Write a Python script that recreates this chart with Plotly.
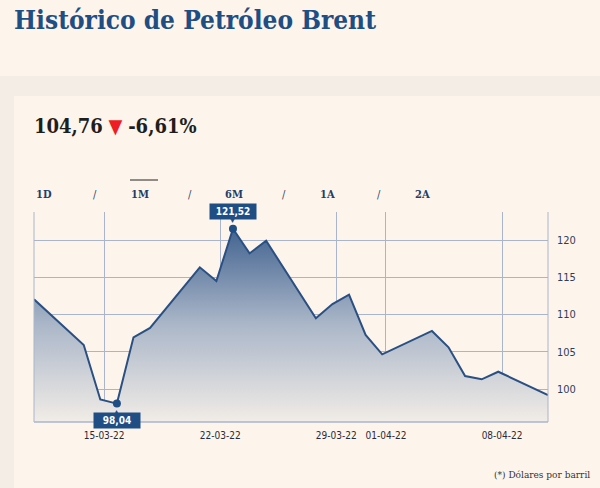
import plotly.graph_objects as go

# ---- data ----
dates = ["2022-03-10 18:30", "2022-03-13 18:30", "2022-03-14 18:30", "2022-03-15 18:30",
         "2022-03-16 18:30", "2022-03-17 18:30", "2022-03-20 18:30", "2022-03-21 18:30",
         "2022-03-22 18:30", "2022-03-23 18:30", "2022-03-24 18:30", "2022-03-27 18:30",
         "2022-03-28 18:30", "2022-03-29 18:30", "2022-03-30 18:30", "2022-03-31 18:30",
         "2022-04-03 18:30", "2022-04-04 18:30", "2022-04-05 18:30", "2022-04-06 18:30",
         "2022-04-07 18:30", "2022-04-10 18:30"]
prices = [112.04, 105.9, 98.6, 98.04, 106.94, 108.19, 116.33, 114.5, 121.52, 118.2, 119.9,
          109.49, 111.4, 112.66, 107.25, 104.65, 107.79, 105.6, 101.74, 101.3, 102.32, 99.19]
x_tickvals = ["2022-03-15", "2022-03-22", "2022-03-29", "2022-04-01", "2022-04-08"]
x_ticktext = ["15-03-22", "22-03-22", "29-03-22", "01-04-22", "08-04-22"]
y_tickvals = [100, 105, 110, 115, 120]
y_ticktext = ["100", "105", "110", "115", "120"]
max_label = "121,52"
min_label = "98,04"
current_value = "104,76"
current_change = "-6,61%"
ranges = ["1D", "1M", "6M", "1A", "2A"]

BG = "#fdf5ec"
BAND = "#f4ede5"
BLUE = "#1f4e85"
LINE = "#2a5083"
GRID = "#aab5ca"

imax = prices.index(max(prices))
imin = prices.index(min(prices))

fig = go.Figure()
fig.add_trace(go.Scatter(
    x=dates, y=prices, mode="lines",
    line=dict(color=LINE, width=2),
    fill="tozeroy",
    fillgradient=dict(type="vertical", start=95.6, stop=122,
                      colorscale=[[0, "rgba(241,236,231,1)"], [0.5, "rgba(170,182,200,1)"],
                                  [1, "rgba(62,96,142,1)"]]),
    hoverinfo="x+y", showlegend=False))
fig.add_trace(go.Scatter(
    x=[dates[imax], dates[imin]], y=[prices[imax], prices[imin]], mode="markers",
    marker=dict(color=BLUE, size=8), showlegend=False, hoverinfo="skip"))

annos = []
annos.append(dict(x=dates[imax], y=prices[imax], xref="x", yref="y", text="<b>%s</b>" % max_label,
                  showarrow=False, yshift=17, bgcolor=BLUE, font=dict(color="white", size=10, family="DejaVu Sans Condensed"),
                  borderpad=2, width=42))
annos.append(dict(x=dates[imax], y=prices[imax], xref="x", yref="y", text="▼",
                  showarrow=False, yshift=8, font=dict(color=BLUE, size=7)))
annos.append(dict(x=dates[imin], y=prices[imin], xref="x", yref="y", text="<b>%s</b>" % min_label,
                  showarrow=False, yshift=-17, bgcolor=BLUE, font=dict(color="white", size=10, family="DejaVu Sans Condensed"),
                  borderpad=2, width=42))
annos.append(dict(x=dates[imin], y=prices[imin], xref="x", yref="y", text="▲",
                  showarrow=False, yshift=-8, font=dict(color=BLUE, size=7)))

# page texts (paper coords: plot area x 34..548, y 212..422)
def px(x):
    return (x - 34) / 514.0

def py(y):
    return (422 - y) / 210.0

annos.append(dict(x=px(12), y=py(20), xref="paper", yref="paper", xanchor="left", yanchor="middle",
                  text="<b>Histórico de Petróleo Brent</b>", showarrow=False,
                  font=dict(family="DejaVu Serif Condensed", size=26, color=BLUE)))
annos.append(dict(x=px(32), y=py(126), xref="paper", yref="paper", xanchor="left", yanchor="middle",
                  text="<b>%s</b> <span style='color:#ee1c25'>▼</span> <b>%s</b>" % (current_value, current_change),
                  showarrow=False, font=dict(family="DejaVu Serif Condensed", size=20, color="#1e1e1e")))
rx = [34, 129, 223, 318, 413]
for i, r in enumerate(ranges):
    annos.append(dict(x=px(rx[i]), y=py(194), xref="paper", yref="paper", xanchor="left", yanchor="middle",
                      text="<b>%s</b>" % r, showarrow=False,
                      font=dict(family="DejaVu Serif Condensed", size=11, color="#1f3f6a")))
    if i < len(ranges) - 1:
        annos.append(dict(x=px(rx[i] + 61), y=py(194), xref="paper", yref="paper", xanchor="center", yanchor="middle",
                          text="/", showarrow=False,
                          font=dict(family="DejaVu Serif Condensed", size=11, color="#1f3f6a")))
annos.append(dict(x=px(592), y=py(474), xref="paper", yref="paper", xanchor="right", yanchor="middle",
                  text="(*) Dólares por barril", showarrow=False,
                  font=dict(family="DejaVu Serif Condensed", size=10, color="#333333")))

shapes = [
    dict(type="rect", xref="paper", yref="paper", x0=px(0), x1=px(600), y0=py(76), y1=py(0),
         fillcolor=BG, line=dict(width=0), layer="below"),
    dict(type="rect", xref="paper", yref="paper", x0=px(14), x1=px(600), y0=py(488), y1=py(96),
         fillcolor=BG, line=dict(width=0), layer="below"),
    dict(type="line", xref="paper", yref="paper", x0=0, x1=0, y0=0, y1=1, line=dict(color=GRID, width=1)),
    dict(type="line", xref="paper", yref="paper", x0=1, x1=1, y0=0, y1=1, line=dict(color=GRID, width=1)),
    dict(type="line", xref="paper", yref="paper", x0=0, x1=1, y0=0, y1=0, line=dict(color=GRID, width=1.5)),
    dict(type="line", xref="paper", yref="paper", x0=px(130), x1=px(158), y0=py(180), y1=py(180),
         line=dict(color="#222222", width=1)),
]

fig.update_layout(
    width=600, height=488,
    margin=dict(l=34, r=52, t=212, b=66),
    paper_bgcolor=BAND, plot_bgcolor="rgba(0,0,0,0)",
    annotations=annos, shapes=shapes,
    xaxis=dict(type="date", range=[dates[0], dates[-1]], tickvals=x_tickvals, ticktext=x_ticktext,
               showgrid=True, gridcolor=GRID, gridwidth=1, zeroline=False, showline=False,
               ticklabelstandoff=6,
               tickfont=dict(family="DejaVu Sans Condensed", size=10, color="#2a2a3a"), ticks="", fixedrange=True),
    yaxis=dict(side="right", range=[95.57, 123.76], tickvals=y_tickvals, ticktext=y_ticktext,
               showgrid=True, gridcolor=GRID, gridwidth=1, zeroline=False, showline=False,
               ticklabelstandoff=8,
               tickfont=dict(family="DejaVu Sans Condensed", size=11, color="#2f3e5a"), ticks="", fixedrange=True),
    hovermode="closest",
)

fig.write_html("out.html")
